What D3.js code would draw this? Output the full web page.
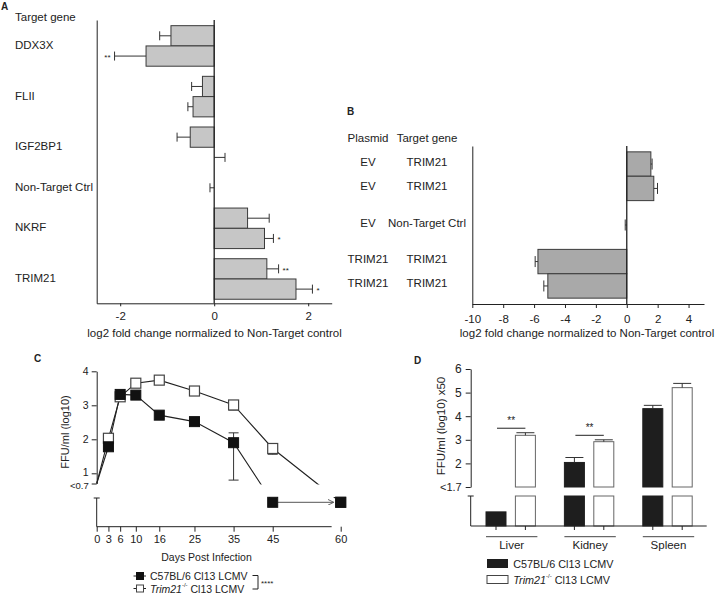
<!DOCTYPE html>
<html><head><meta charset="utf-8">
<script src="https://cdn.jsdelivr.net/npm/d3@7"></script>
<style>
body{margin:0;background:#fff}
svg{display:block}
text{font-family:"Liberation Sans",Arial,sans-serif;fill:#222}
</style>
</head><body>
<svg id="c" width="717" height="593"></svg>
<script>
// ---------------- Panel A data ----------------
const aGenes = ["DDX3X","FLII","IGF2BP1","Non-Target Ctrl","NKRF","TRIM21"];
const aBarGene = ["DDX3X","DDX3X","FLII","FLII","IGF2BP1","IGF2BP1","Non-Target Ctrl","NKRF","NKRF","TRIM21","TRIM21"];
const aValues = [-0.92,-1.45,-0.25,-0.45,-0.51,0.0,0.0,0.71,1.07,1.12,1.74];
const aErrEnd = [-1.16,-2.12,-0.48,-0.56,-0.79,0.23,-0.09,1.17,1.26,1.37,2.09];
const aSig = ["","**","","","","","","","*","**","*"];
const aTicks = [-2,0,2];

// ---------------- Panel B data ----------------
const bPlasmid = ["EV","EV","EV","TRIM21","TRIM21"];
const bTarget = ["TRIM21","TRIM21","Non-Target Ctrl","TRIM21","TRIM21"];
const bGroup = [0,0,1,2,2];
const bValues = [1.56,1.75,0.0,-5.75,-5.11];
const bErrEnd = [1.64,1.99,-0.10,-5.93,-5.37];
const bTicks = [-10,-8,-6,-4,-2,0,2,4];

// ---------------- Panel C data ----------------
// 0 = below detection limit (<0.7), drawn on the lower broken segment
const cDays = [0,3,6,10,16,25,35,45,60];
const cB6 = [0.7,1.78,3.32,3.30,2.71,2.52,1.90,0,0];
const cB6ErrLow = [null,null,null,null,null,null,0.80,null,null];
const cB6ErrHigh = [null,null,null,null,null,null,2.19,null,null];
const cTrim = [0.7,2.03,3.25,3.65,3.74,3.42,3.01,1.73,0];
const cTrimErrLow = [null,null,null,null,null,null,2.86,1.56,null];
const cYTicks = [0.7,1,2,3,4];
const cYTickLabels = ["<0.7","1","2","3","4"];
const cXTicks = [0,3,6,10,16,25,35,45,60];

// ---------------- Panel D data ----------------
const dOrgans = ["Liver","Kidney","Spleen"];
const dSeries = ["C57BL/6","Trim21"];
const dB6 = [0.8,2.04,4.32];        // liver below detection (<1.7)
const dB6ErrEnd = [null,2.25,4.46];
const dTrim = [3.19,2.92,5.21];
const dTrimErrEnd = [3.30,3.00,5.39];
const dSig = ["**","**",""];
const dYTicks = [1,2,3,4,5,6];
const dYTickLabels = ["<1.7","2","3","4","5","6"];

const svg = d3.select("#c");
const INK = "#222";
const defs = svg.append("defs");

function label(g, x, y, s, size, opts = {}) {
  const t = g.append("text").attr("x", x).attr("y", y).attr("font-size", size)
    .attr("text-anchor", opts.anchor || "start").attr("dominant-baseline", "central");
  if (opts.weight) t.attr("font-weight", opts.weight);
  if (opts.rotate) t.attr("transform", `rotate(${opts.rotate},${x},${y})`);
  t.text(s);
  return t;
}
function styleAxis(sel, size) {
  sel.selectAll("path,line").attr("stroke", INK).attr("stroke-width", 1);
  sel.selectAll("text").attr("font-size", size).attr("fill", INK)
    .attr("font-family", '"Liberation Sans",Arial,sans-serif');
}

// panel letters
label(svg, 1, 6, "A", 10, {weight: "bold"});
label(svg, 347, 111, "B", 10, {weight: "bold"});
label(svg, 34, 358, "C", 10, {weight: "bold"});
label(svg, 414, 360, "D", 10, {weight: "bold"});

// ================= Panel A =================
(function(){
  const g = svg.append("g");
  const gi = aBarGene.map(d => aGenes.indexOf(d));
  const pos = aBarGene.map((d, i) => i + 0.5 * gi[i]);
  const x = d3.scaleLinear().domain([-2.5, 2.5]).range([96.7, 331.7]);
  const y = d3.scaleLinear().domain([-0.78, 13.2]).range([20, 303.3]);
  const bh = y(1) - y(0);

  g.selectAll("rect.bar").data(aValues).join("rect")
    .attr("x", d => Math.min(x(0), x(d))).attr("width", d => Math.abs(x(d) - x(0)))
    .attr("y", (d, i) => y(pos[i]) - bh / 2).attr("height", bh)
    .attr("fill", "#c6c6c6").attr("stroke", "#3a3a3a").attr("stroke-width", 1);

  const eb = g.selectAll("g.err").data(aValues).join("g");
  eb.append("line").attr("x1", d => x(d)).attr("x2", (d, i) => x(aErrEnd[i]))
    .attr("y1", (d, i) => y(pos[i])).attr("y2", (d, i) => y(pos[i])).attr("stroke", "#333");
  eb.append("line").attr("x1", (d, i) => x(aErrEnd[i])).attr("x2", (d, i) => x(aErrEnd[i]))
    .attr("y1", (d, i) => y(pos[i]) - 4.5).attr("y2", (d, i) => y(pos[i]) + 4.5).attr("stroke", "#333");

  aSig.forEach((s, i) => {
    if (!s) return;
    const e = x(aErrEnd[i]);
    const neg = aErrEnd[i] < 0;
    label(g, neg ? e - 4 : e + 4, y(pos[i]) + 1.5, s, 8, {anchor: neg ? "end" : "start"});
  });

  const ax = g.append("g").attr("transform", "translate(0,303.3)")
    .call(d3.axisBottom(x).tickValues(aTicks).tickSize(3).tickSizeOuter(0).tickPadding(6).tickFormat(d3.format("d")));
  styleAxis(ax, 11.5);
  ax.selectAll("text").text(d => d < 0 ? "-" + Math.abs(d) : d);
  const ay = g.append("g").attr("transform", "translate(96.7,0)")
    .call(d3.axisLeft(y).tickValues([]).tickSizeOuter(0));
  styleAxis(ay, 11);
  g.append("line").attr("x1", x(0)).attr("x2", x(0)).attr("y1", y.range()[0]).attr("y2", y.range()[1])
    .attr("stroke", "#222").attr("stroke-width", 1.3);

  label(g, 15, 17, "Target gene", 11.5);
  aGenes.forEach(gn => {
    const ps = pos.filter((p, i) => aBarGene[i] === gn);
    label(g, 15, y(d3.mean(ps)) - 1, gn, 11.5);
  });
  label(g, 214.5, 333, "log2 fold change normalized to Non-Target control", 11.5, {anchor: "middle"});
})();

// ================= Panel B =================
(function(){
  const g = svg.append("g");
  const pos = bValues.map((d, i) => i + 0.5 * bGroup[i]);
  const x = d3.scaleLinear().domain([-10, 5]).range([472.3, 704]);
  const y = d3.scaleLinear().domain([-0.74, 5.74]).range([146, 304]);
  const bh = y(1) - y(0);

  g.selectAll("rect.bar").data(bValues).join("rect")
    .attr("x", d => Math.min(x(0), x(d))).attr("width", d => Math.abs(x(d) - x(0)))
    .attr("y", (d, i) => y(pos[i]) - bh / 2).attr("height", bh)
    .attr("fill", "#a9a9a9").attr("stroke", "#3a3a3a").attr("stroke-width", 1);

  const eb = g.selectAll("g.err").data(bValues).join("g");
  eb.append("line").attr("x1", d => x(d)).attr("x2", (d, i) => x(bErrEnd[i]))
    .attr("y1", (d, i) => y(pos[i])).attr("y2", (d, i) => y(pos[i])).attr("stroke", "#333");
  eb.append("line").attr("x1", (d, i) => x(bErrEnd[i])).attr("x2", (d, i) => x(bErrEnd[i]))
    .attr("y1", (d, i) => y(pos[i]) - 5.5).attr("y2", (d, i) => y(pos[i]) + 5.5).attr("stroke", "#333");

  const ax = g.append("g").attr("transform", "translate(0,304)")
    .call(d3.axisBottom(x).tickValues(bTicks).tickSize(4).tickSizeOuter(0).tickPadding(7));
  styleAxis(ax, 11.5);
  ax.selectAll("text").text(d => d < 0 ? "-" + Math.abs(d) : d);
  const ay = g.append("g").attr("transform", "translate(472.3,0)")
    .call(d3.axisLeft(y).tickValues([]).tickSizeOuter(0));
  styleAxis(ay, 11);
  g.append("line").attr("x1", x(0)).attr("x2", x(0)).attr("y1", y.range()[0]).attr("y2", y.range()[1])
    .attr("stroke", "#222").attr("stroke-width", 1.3);

  label(g, 368, 138, "Plasmid", 11.5, {anchor: "middle"});
  label(g, 427, 138, "Target gene", 11.5, {anchor: "middle"});
  bValues.forEach((d, i) => {
    label(g, 368, y(pos[i]) - 2.5, bPlasmid[i], 11.5, {anchor: "middle"});
    label(g, 427, y(pos[i]) - 2.5, bTarget[i], 11.5, {anchor: "middle"});
  });
  label(g, 587, 333, "log2 fold change normalized to Non-Target control", 11.5, {anchor: "middle"});
})();

// ================= Panel C =================
(function(){
  const g = svg.append("g");
  const x = d3.scaleLinear().domain([0, 45, 60]).range([96.7, 272.7, 340.7]);
  const yU = d3.scaleLinear().domain([0.7, 4]).range([483.5, 371.3]);
  const lodY = 502.3;
  const yy = v => v > 0 ? yU(v) : lodY;
  const baseY = 526.7;

  defs.append("clipPath").attr("id", "clipC").call(cp => {
    cp.append("rect").attr("x", 80).attr("y", 360).attr("width", 280).attr("height", 124.5);
    cp.append("rect").attr("x", 80).attr("y", 497).attr("width", 280).attr("height", 30);
  });
  defs.append("marker").attr("id", "arrC").attr("viewBox", "0 0 10 10").attr("refX", 10).attr("refY", 5)
    .attr("markerWidth", 6).attr("markerHeight", 6).attr("orient", "auto").attr("markerUnits", "userSpaceOnUse")
    .append("path").attr("d", "M0,0 L10,5 L0,10").attr("fill", "none").attr("stroke", "#555").attr("stroke-width", 1.5);

  // axes
  const ay = g.append("g").attr("transform", "translate(96.7,0)")
    .call(d3.axisLeft(yU).tickValues(cYTicks).tickFormat((d, i) => cYTickLabels[i]).tickSize(5).tickSizeOuter(0).tickPadding(3));
  styleAxis(ay, 10.5);
  ay.selectAll(".tick text").filter(d => d === 0.7).attr("font-size", 9.5).attr("dy", "0.55em");
  ay.selectAll(".tick text").filter(d => d === 1).attr("dy", "0.2em");
  g.append("line").attr("x1", 96.7).attr("x2", 96.7).attr("y1", 498).attr("y2", baseY).attr("stroke", INK);
  g.append("line").attr("x1", 93.7).attr("x2", 99.7).attr("y1", 498).attr("y2", 498).attr("stroke", INK);

  const ax = g.append("g").attr("transform", `translate(0,${baseY})`)
    .call(d3.axisBottom(x).tickValues(cXTicks).tickSize(5).tickSizeOuter(0).tickPadding(4));
  styleAxis(ax, 11);
  ax.select("path.domain").remove();
  g.append("line").attr("x1", x(0)).attr("x2", x(58)).attr("y1", baseY).attr("y2", baseY).attr("stroke", INK);

  const line = d3.line().x(d => x(d[0])).y(d => yy(d[1]));
  const ptsT = cDays.map((d, i) => [d, cTrim[i]]);
  const ptsB = cDays.map((d, i) => [d, cB6[i]]);
  const lines = g.append("g").attr("clip-path", "url(#clipC)");
  lines.append("path").attr("d", line(ptsT)).attr("fill", "none").attr("stroke", "#222").attr("stroke-width", 1.1);
  lines.append("path").attr("d", line(ptsB.filter(p => p[0] <= 45))).attr("fill", "none").attr("stroke", "#222").attr("stroke-width", 1.1);

  // error bars
  const errs = (vals, lo, hi) => vals.forEach((v, i) => {
    [lo[i], hi ? hi[i] : null].forEach(e => {
      if (e == null) return;
      g.append("line").attr("x1", x(cDays[i])).attr("x2", x(cDays[i])).attr("y1", yy(v)).attr("y2", yU(e)).attr("stroke", "#333");
      g.append("line").attr("x1", x(cDays[i]) - 5).attr("x2", x(cDays[i]) + 5).attr("y1", yU(e)).attr("y2", yU(e)).attr("stroke", "#333");
    });
  });
  errs(cTrim, cTrimErrLow, null);
  errs(cB6, cB6ErrLow, cB6ErrHigh);

  const s = 10;
  g.selectAll("rect.t").data(ptsT.filter(p => p[0] > 0)).join("rect")
    .attr("x", d => x(d[0]) - s / 2).attr("y", d => yy(d[1]) - s / 2).attr("width", s).attr("height", s)
    .attr("fill", "#fff").attr("stroke", "#444").attr("stroke-width", 1.2);
  // arrow 45 -> 60 (black series below detection)
  g.append("line").attr("x1", x(45) + 5).attr("x2", x(60) - 7).attr("y1", lodY).attr("y2", lodY)
    .attr("stroke", "#555").attr("stroke-width", 1).attr("marker-end", "url(#arrC)");
  g.selectAll("rect.b").data(ptsB.filter(p => p[0] > 0)).join("rect")
    .attr("x", d => x(d[0]) - s / 2).attr("y", d => yy(d[1]) - s / 2).attr("width", s).attr("height", s)
    .attr("fill", "#111").attr("stroke", "#111");

  label(g, 65, 432, "FFU/ml (log10)", 11, {anchor: "middle", rotate: -90});
  label(g, 206.5, 557, "Days Post Infection", 10.5, {anchor: "middle"});

  // legend
  const lg = g.append("g");
  [[576, "#111", "#111"], [588.5, "#fff", "#444"]].forEach(([ly, f, st]) => {
    lg.append("line").attr("x1", 133.5).attr("x2", 146).attr("y1", ly).attr("y2", ly).attr("stroke", "#222");
    lg.append("rect").attr("x", 136.5).attr("y", ly - 3.5).attr("width", 7).attr("height", 7).attr("fill", f).attr("stroke", st);
  });
  label(lg, 150, 576, "C57BL/6 Cl13 LCMV", 10.5);
  const t2 = lg.append("text").attr("x", 150).attr("y", 588.5).attr("font-size", 10.5).attr("dominant-baseline", "central");
  t2.append("tspan").attr("font-style", "italic").text("Trim21");
  t2.append("tspan").attr("font-size", 6).attr("dy", -4).text("-/-");
  t2.append("tspan").attr("dy", 4).text(" Cl13 LCMV");
  lg.append("path").attr("d", "M252.5,575.5 H258 V589 H252.5").attr("fill", "none").attr("stroke", "#222");
  label(lg, 261, 583, "****", 8);
})();

// ================= Panel D =================
(function(){
  const g = svg.append("g");
  const xG = d3.scaleBand().domain(dOrgans).range([471.5, 706.7]);
  const xS = d3.scalePoint().domain(dSeries).range([-14.7, 14.7]);
  const cx = (o, s) => xG(o) + xG.bandwidth() / 2 + xS(s);
  const bw = 20;
  const yU = d3.scaleLinear().domain([1, 6]).range([487, 369]);
  const yL = d3.scaleLinear().domain([0, 1.7]).range([526, 496]);
  const lodTop = 1.7;

  const bars = [];
  dOrgans.forEach((o, i) => {
    bars.push({o, s: dSeries[0], v: dB6[i], e: dB6ErrEnd[i], fill: "#1e1e1e", stroke: "#1e1e1e"});
    bars.push({o, s: dSeries[1], v: dTrim[i], e: dTrimErrEnd[i], fill: "#fff", stroke: "#666"});
  });
  // lower segment
  g.selectAll("rect.low").data(bars).join("rect")
    .attr("x", d => cx(d.o, d.s) - bw / 2).attr("width", bw)
    .attr("y", d => yL(Math.min(d.v, lodTop))).attr("height", d => yL(0) - yL(Math.min(d.v, lodTop)))
    .attr("fill", d => d.fill).attr("stroke", d => d.stroke);
  // upper segment
  g.selectAll("rect.up").data(bars.filter(d => d.v > lodTop)).join("rect")
    .attr("x", d => cx(d.o, d.s) - bw / 2).attr("width", bw)
    .attr("y", d => yU(d.v)).attr("height", d => yU(1) - yU(d.v))
    .attr("fill", d => d.fill).attr("stroke", d => d.stroke);
  // error bars
  bars.filter(d => d.e != null).forEach(d => {
    const c = cx(d.o, d.s);
    g.append("line").attr("x1", c).attr("x2", c).attr("y1", yU(d.v)).attr("y2", yU(d.e)).attr("stroke", "#333");
    g.append("line").attr("x1", c - 9).attr("x2", c + 9).attr("y1", yU(d.e)).attr("y2", yU(d.e)).attr("stroke", "#333");
  });
  // significance
  dOrgans.forEach((o, i) => {
    if (!dSig[i]) return;
    const top = d3.max([dB6ErrEnd[i], dTrimErrEnd[i]].filter(v => v != null));
    const ly = yU(top) - 4.5;
    const x1 = cx(o, dSeries[0]) + 1, x2 = cx(o, dSeries[1]);
    g.append("line").attr("x1", x1).attr("x2", x2).attr("y1", ly).attr("y2", ly).attr("stroke", "#222");
    label(g, (x1 + x2) / 2, ly - 8, dSig[i], 10, {anchor: "middle"});
  });

  // axes
  const ay = g.append("g").attr("transform", "translate(470.7,0)")
    .call(d3.axisLeft(yU).tickValues(dYTicks).tickFormat((d, i) => dYTickLabels[i]).tickSize(5).tickSizeOuter(0).tickPadding(4));
  styleAxis(ay, 12);
  ay.selectAll(".tick text").filter(d => d === 1).attr("font-size", 11);
  g.append("line").attr("x1", 470.7).attr("x2", 470.7).attr("y1", 496).attr("y2", 526).attr("stroke", INK);
  g.append("line").attr("x1", 467.7).attr("x2", 473.7).attr("y1", 496).attr("y2", 496).attr("stroke", INK);
  g.append("line").attr("x1", 470.7).attr("x2", 706.7).attr("y1", 526).attr("y2", 526).attr("stroke", INK);
  bars.forEach(d => {
    const c = cx(d.o, d.s);
    g.append("line").attr("x1", c).attr("x2", c).attr("y1", 526).attr("y2", 530).attr("stroke", INK);
  });
  dOrgans.forEach(o => {
    const l = cx(o, dSeries[0]) - bw / 2, r = cx(o, dSeries[1]) + bw / 2 + 2;
    g.append("line").attr("x1", l).attr("x2", r).attr("y1", 536.7).attr("y2", 536.7).attr("stroke", "#444");
    label(g, (l + r) / 2, 544.5, o, 11.5, {anchor: "middle"});
  });
  label(g, 441, 426, "FFU/ml (log10) x50", 11.5, {anchor: "middle", rotate: -90});

  // legend
  g.append("rect").attr("x", 487).attr("y", 559).attr("width", 21).attr("height", 9).attr("fill", "#1e1e1e");
  g.append("rect").attr("x", 487).attr("y", 575.5).attr("width", 21).attr("height", 8).attr("fill", "#fff").attr("stroke", "#444");
  label(g, 513.3, 563.7, "C57BL/6 Cl13 LCMV", 10.8);
  const t2 = g.append("text").attr("x", 513.3).attr("y", 579.5).attr("font-size", 10.8).attr("dominant-baseline", "central");
  t2.append("tspan").attr("font-style", "italic").text("Trim21");
  t2.append("tspan").attr("font-size", 6).attr("dy", -4).text("-/-");
  t2.append("tspan").attr("dy", 4).text(" Cl13 LCMV");
})();
</script>
</body></html>
